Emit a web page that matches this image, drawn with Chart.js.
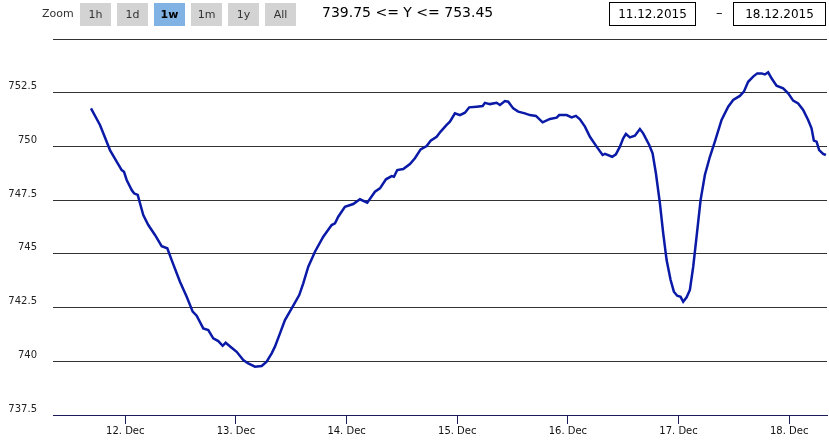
<!DOCTYPE html>
<html>
<head>
<meta charset="utf-8">
<script src="https://cdn.jsdelivr.net/npm/chart.js@4.4.1/dist/chart.umd.min.js"></script>
<style>
  body { margin: 0; background: #fff; overflow: hidden; font-family: "DejaVu Sans", sans-serif; }
  #wrap { position: relative; width: 829px; height: 442px; }
  #chart { position: absolute; left: 0; top: 0; }
  .zoom-label { position: absolute; left: 42px; top: 7px; font-size: 11px; color: #333; }
  .btn { position: absolute; top: 3px; width: 31px; height: 23px; background: #d3d3d3;
         font-size: 11px; color: #333; text-align: center; line-height: 23px; }
  .btn.on { background: #80b2e3; color: #000; font-weight: bold; }
  .range { position: absolute; left: 322px; top: 4px; font-size: 14px; color: #000; }
  .date { position: absolute; top: 2px; height: 22px; border: 1px solid #000; font-size: 12px;
          text-align: center; line-height: 22px; color: #000; }
  .dash { position: absolute; left: 716px; top: 5px; font-size: 13px; color: #000; }
</style>
</head>
<body>
<div id="wrap">
  <canvas id="chart" width="829" height="442"></canvas>
  <div class="zoom-label">Zoom</div>
  <div id="buttons"></div>
  <div class="range" id="range"></div>
  <div class="date" style="left:609px; width:85px;">11.12.2015</div>
  <div class="dash">–</div>
  <div class="date" style="left:733px; width:91px;">18.12.2015</div>
</div>
<script>
// hours since 11 Dec 2015 00:00
const hours = [
  16.56, 18.51, 19.38, 20.68, 22.13, 23.22, 23.72, 24.30, 25.39, 25.89,
  26.69, 27.90, 28.99, 30.44, 31.89, 33.11, 34.06, 35.86, 37.32, 38.62,
  39.48, 40.91, 42.00, 43.08, 44.17, 45.12, 45.77, 47.07, 48.16, 49.59,
  50.67, 52.13, 53.58, 54.66, 55.75, 56.46, 57.55, 58.63, 60.09, 61.73,
  62.60, 63.69, 65.14, 66.94, 68.76, 69.48, 70.19, 71.64, 73.44, 74.90,
  76.48, 78.15, 79.23, 80.54, 81.77, 82.27, 82.99, 84.29, 85.74, 86.82,
  88.06, 89.36, 90.23, 91.53, 92.40, 93.70, 94.41, 95.50, 96.58, 97.67,
  98.60, 100.20, 101.51, 102.01, 103.09, 104.54, 105.26, 106.34, 107.06, 108.14,
  109.23, 110.68, 111.76, 113.07, 114.52, 116.11, 117.56, 118.12, 119.73, 120.81,
  121.74, 122.61, 123.70, 124.78, 126.23, 127.53, 128.03, 129.61, 130.41, 131.28,
  132.00, 132.58, 133.45, 134.53, 135.62, 136.33, 137.64, 138.37, 139.09, 139.96,
  140.67, 141.41, 142.28, 142.99, 143.71, 144.45, 145.01, 145.75, 146.46, 147.18,
  147.91, 148.78, 149.71, 150.80, 151.88, 153.33, 154.77, 155.85, 157.30, 158.17,
  159.10, 160.19, 161.06, 162.01, 162.73, 163.44, 164.17, 165.26, 166.69, 167.78,
  168.86, 169.95, 171.03, 172.11, 172.85, 173.35, 173.94, 174.50, 175.37, 175.96
];
const prices = [
  751.77, 751.00, 750.53, 749.83, 749.29, 748.90, 748.82, 748.44, 747.97, 747.82,
  747.74, 746.81, 746.34, 745.88, 745.36, 745.26, 744.71, 743.70, 743.00, 742.31,
  742.12, 741.53, 741.45, 741.07, 740.94, 740.72, 740.86, 740.63, 740.44, 740.06,
  739.90, 739.75, 739.78, 739.98, 740.37, 740.68, 741.30, 741.92, 742.46, 743.08,
  743.63, 744.40, 745.10, 745.80, 746.34, 746.42, 746.73, 747.19, 747.32, 747.54,
  747.38, 747.89, 748.05, 748.47, 748.62, 748.59, 748.90, 748.95, 749.18, 749.45,
  749.86, 750.02, 750.27, 750.45, 750.69, 751.00, 751.15, 751.54, 751.46, 751.57,
  751.82, 751.85, 751.88, 752.03, 751.97, 752.03, 751.93, 752.11, 752.08, 751.77,
  751.62, 751.54, 751.46, 751.42, 751.12, 751.28, 751.34, 751.46, 751.46, 751.35,
  751.42, 751.26, 750.92, 750.45, 749.99, 749.60, 749.65, 749.52, 749.63, 749.99,
  750.38, 750.58, 750.42, 750.50, 750.81, 750.61, 750.07, 749.68, 748.75, 747.35,
  745.96, 744.71, 743.78, 743.24, 743.05, 743.00, 742.77, 742.98, 743.32, 744.40,
  745.80, 747.50, 748.67, 749.52, 750.22, 751.23, 751.85, 752.16, 752.35, 752.55,
  753.01, 753.25, 753.40, 753.40, 753.35, 753.45, 753.17, 752.83, 752.70, 752.47,
  752.13, 752.00, 751.70, 751.23, 750.84, 750.27, 750.22, 749.83, 749.65, 749.60
];
const tickDays = [12, 13, 14, 15, 16, 17, 18];
const tickLabels = ['12. Dec', '13. Dec', '14. Dec', '15. Dec', '16. Dec', '17. Dec', '18. Dec'];
const yTicks = [737.5, 740, 742.5, 745, 747.5, 750, 752.5, 755];
const zoomButtons = ['1h', '1d', '1w', '1m', '1y', 'All'];
const zoomLeft = [80, 117, 154, 191, 228, 265];

const btnBox = document.getElementById('buttons');
zoomButtons.forEach((b, i) => {
  const d = document.createElement('div');
  d.className = 'btn' + (b === '1w' ? ' on' : '');
  d.style.left = zoomLeft[i] + 'px';
  d.textContent = b;
  btnBox.appendChild(d);
});
document.getElementById('range').textContent =
  Math.min(...prices).toFixed(2) + ' <= Y <= ' + Math.max(...prices).toFixed(2);

const points = hours.map((h, i) => ({ x: h, y: prices[i] }));
const tickFont = { family: 'DejaVu Sans', size: 10 };

new Chart(document.getElementById('chart').getContext('2d'), {
  type: 'line',
  data: {
    datasets: [{
      data: points,
      borderColor: '#0a1aa6',
      borderWidth: 2.5,
      pointRadius: 0,
      tension: 0,
      fill: false
    }]
  },
  options: {
    responsive: false,
    animation: false,
    layout: { padding: { top: 39, right: 2, left: 0, bottom: 0 } },
    plugins: { legend: { display: false }, tooltip: { enabled: false } },
    scales: {
      x: {
        type: 'linear',
        min: 8.32,
        max: 176.2,
        afterBuildTicks: s => { s.ticks = tickDays.map(d => ({ value: (d - 11) * 24 })); },
        afterFit: s => { s.height = 27; },
        grid: { drawOnChartArea: false, drawTicks: true, tickLength: 9, color: '#1c1c5c' },
        border: { color: '#1c1c5c', width: 1 },
        ticks: {
          font: tickFont, color: '#111', padding: 1, maxRotation: 0,
          callback: (v, i) => tickLabels[i]
        }
      },
      y: {
        min: 737.5,
        max: 755,
        afterBuildTicks: s => { s.ticks = yTicks.map(v => ({ value: v })); },
        afterFit: s => { s.width = 53; },
        grid: { color: '#333', drawTicks: false, lineWidth: 1 },
        border: { display: false },
        ticks: {
          font: tickFont, color: '#222', padding: 16, labelOffset: -6,
          callback: v => v === 755 ? '' : String(v)
        }
      }
    }
  }
});
</script>
</body>
</html>
